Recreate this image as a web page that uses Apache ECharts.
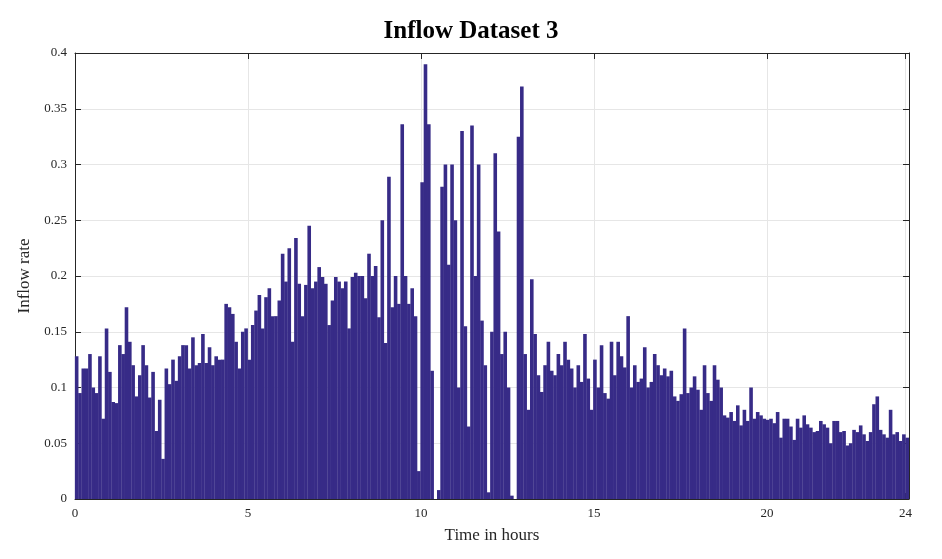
<!DOCTYPE html>
<html>
<head>
<meta charset="UTF-8">
<script src="https://cdn.jsdelivr.net/npm/echarts@6/dist/echarts.min.js"></script>
<style>html,body{margin:0;padding:0;background:#fff}#c{width:942px;height:559px}</style>
</head>
<body>
<div id="c"></div>
<script>
// inflow rate, one bar every stepHours starting at 0 h
var stepHours = 0.096;
var inflow = [
  0.128, 0.095, 0.117, 0.117, 0.13, 0.1, 0.095, 0.128, 0.072, 0.153, 0.114, 0.087, 0.086, 0.138, 0.13, 0.172, 0.141, 0.12, 0.092, 0.111, 0.138, 0.12, 0.091, 0.114, 0.061, 0.089, 0.036, 0.117, 0.103, 0.125, 0.106, 0.128, 0.138, 0.138, 0.117, 0.145, 0.12, 0.122, 0.148, 0.122, 0.136, 0.12, 0.128, 0.125,
  0.125, 0.175, 0.172, 0.166, 0.141, 0.117, 0.15, 0.153, 0.125, 0.156, 0.169, 0.183, 0.153, 0.181, 0.189, 0.164, 0.164, 0.178, 0.22, 0.195, 0.225, 0.141, 0.234, 0.193, 0.164, 0.192, 0.245, 0.189, 0.195, 0.208, 0.199, 0.193, 0.156, 0.178, 0.199, 0.195, 0.189, 0.195, 0.153, 0.199, 0.203, 0.2,
  0.2, 0.18, 0.22, 0.2, 0.209, 0.163, 0.25, 0.14, 0.289, 0.172, 0.2, 0.175, 0.336, 0.2, 0.175, 0.189, 0.164, 0.025, 0.284, 0.39, 0.336, 0.115, 0, 0.008, 0.28, 0.3, 0.21, 0.3, 0.25, 0.1, 0.33, 0.155, 0.065, 0.335, 0.2, 0.3, 0.16, 0.12, 0.006, 0.15, 0.31, 0.24,
  0.13, 0.15, 0.1, 0.003, 0.0, 0.325, 0.37, 0.13, 0.08, 0.197, 0.148, 0.111, 0.096, 0.12, 0.141, 0.115, 0.111, 0.13, 0.12, 0.141, 0.125, 0.117, 0.1, 0.12, 0.105, 0.148, 0.108, 0.08, 0.125, 0.1, 0.138, 0.095, 0.09, 0.141, 0.111, 0.141, 0.128, 0.118, 0.164, 0.1, 0.12, 0.105,
  0.108, 0.136, 0.1, 0.105, 0.13, 0.12, 0.111, 0.117, 0.11, 0.115, 0.092, 0.088, 0.094, 0.153, 0.095, 0.1, 0.11, 0.098, 0.08, 0.12, 0.095, 0.088, 0.12, 0.107, 0.1, 0.075, 0.073, 0.078, 0.07, 0.084, 0.066, 0.08, 0.07, 0.1, 0.072, 0.078, 0.075, 0.072, 0.071, 0.072, 0.068, 0.078,
  0.055, 0.072, 0.072, 0.065, 0.053, 0.072, 0.064, 0.075, 0.067, 0.064, 0.06, 0.061, 0.07, 0.067, 0.064, 0.05, 0.07, 0.07, 0.06, 0.061, 0.048, 0.05, 0.062, 0.06, 0.066, 0.058, 0.052, 0.06, 0.085, 0.092, 0.062, 0.058, 0.055, 0.08, 0.058, 0.06, 0.052, 0.058, 0.055
];
var xTicks = [0, 5, 10, 15, 20, 24];

var points = inflow.map(function (v, i) {
  return [i * stepHours + stepHours / 2, v];
});

var serif = 'Liberation Serif';
var axisLine = {show: true, onZero: false, lineStyle: {color: '#262626', width: 1}};
var tick = {inside: true, length: 6, lineStyle: {color: '#262626'}};
var chart = echarts.init(document.getElementById('c'));
chart.setOption({
  animation: false,
  title: {
    text: 'Inflow Dataset 3', left: 'center', top: 14,
    textStyle: {fontFamily: serif, fontSize: 25, fontWeight: 'bold', color: '#000'}
  },
  grid: {left: 75, right: 33, top: 53, bottom: 60},
  xAxis: [{
    type: 'value', min: 0, max: 24.1,
    name: 'Time in hours', nameLocation: 'middle', nameGap: 28,
    nameTextStyle: {fontFamily: serif, fontSize: 17, color: '#262626'},
    axisLine: axisLine,
    axisTick: {inside: true, length: 6, lineStyle: {color: '#262626'}, customValues: xTicks},
    axisLabel: {fontFamily: serif, fontSize: 13, color: '#262626', customValues: xTicks},
    splitLine: {show: true, lineStyle: {color: '#e6e6e6'}}
  }, {
    type: 'value', position: 'top', min: 0, max: 24.1,
    axisLine: axisLine, axisLabel: {show: false}, splitLine: {show: false},
    axisTick: {inside: true, length: 6, lineStyle: {color: '#262626'}, customValues: xTicks}
  }],
  yAxis: [{
    type: 'value', min: 0, max: 0.4, interval: 0.05,
    name: 'Inflow rate', nameLocation: 'middle', nameGap: 38,
    nameTextStyle: {fontFamily: serif, fontSize: 17, color: '#262626'},
    axisLine: axisLine, axisTick: tick,
    axisLabel: {fontFamily: serif, fontSize: 13, color: '#262626'},
    splitLine: {show: true, lineStyle: {color: '#e6e6e6'}}
  }, {
    type: 'value', position: 'right', min: 0, max: 0.4, interval: 0.05,
    axisLine: axisLine, axisLabel: {show: false}, splitLine: {show: false},
    axisTick: tick
  }],
  series: [{
    type: 'bar',
    data: points,
    barWidth: 3.6,
    itemStyle: {color: '#372b87'},
    silent: true
  }]
});
</script>
</body>
</html>
